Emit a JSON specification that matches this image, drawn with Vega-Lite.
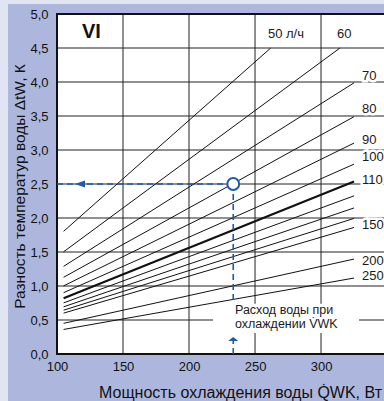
{
  "$schema": "https://vega.github.io/schema/vega-lite/v6.json",
  "width": 327,
  "height": 340,
  "autosize": {"type": "none"},
  "padding": {"left": 57, "top": 14, "right": 0, "bottom": 47},
  "background": "#adb7dd",
  "config": {
    "view": {"stroke": null, "fill": "#ffffff"},
    "font": "Liberation Sans",
    "text": {"font": "Liberation Sans"}
  },
  "datasets": {
    "lines": [
      {"v": 50, "q": 105, "dt": 1.804}, {"v": 50, "q": 261.9, "dt": 4.5},
      {"v": 60, "q": 105, "dt": 1.503}, {"v": 60, "q": 314.3, "dt": 4.5},
      {"v": 70, "q": 105, "dt": 1.289}, {"v": 70, "q": 325, "dt": 3.988},
      {"v": 80, "q": 105, "dt": 1.128}, {"v": 80, "q": 325, "dt": 3.49},
      {"v": 90, "q": 105, "dt": 1.002}, {"v": 90, "q": 325, "dt": 3.102},
      {"v": 100, "q": 105, "dt": 0.902}, {"v": 100, "q": 325, "dt": 2.792},
      {"v": 110, "q": 105, "dt": 0.82}, {"v": 110, "q": 325, "dt": 2.538},
      {"v": 120, "q": 105, "dt": 0.752}, {"v": 120, "q": 325, "dt": 2.326},
      {"v": 130, "q": 105, "dt": 0.694}, {"v": 130, "q": 325, "dt": 2.148},
      {"v": 140, "q": 105, "dt": 0.644}, {"v": 140, "q": 325, "dt": 1.994},
      {"v": 150, "q": 105, "dt": 0.601}, {"v": 150, "q": 325, "dt": 1.861},
      {"v": 200, "q": 105, "dt": 0.451}, {"v": 200, "q": 325, "dt": 1.396},
      {"v": 250, "q": 105, "dt": 0.361}, {"v": 250, "q": 325, "dt": 1.117}
    ],
    "labels": [
      {"t": "50 л/ч", "q": 259.8, "dt": 4.7},
      {"t": "60", "q": 312.1, "dt": 4.7},
      {"t": "70", "q": 331.1, "dt": 4.081},
      {"t": "80", "q": 331.1, "dt": 3.596},
      {"t": "90", "q": 331.1, "dt": 3.154},
      {"t": "100", "q": 331.1, "dt": 2.89},
      {"t": "110", "q": 331.1, "dt": 2.559},
      {"t": "150", "q": 331.1, "dt": 1.897},
      {"t": "200", "q": 331.1, "dt": 1.368},
      {"t": "250", "q": 331.1, "dt": 1.154}
    ],
    "strips": [
      {"q": 40, "q2": 62.9, "dt": -1, "dt2": 6},
      {"q": 40, "q2": 400, "dt": 5.147, "dt2": 6}
    ],
    "grid": [
      {"q": 150, "q2": 150, "dt": 0, "dt2": 5},
      {"q": 200, "q2": 200, "dt": 0, "dt2": 5},
      {"q": 250, "q2": 250, "dt": 0, "dt2": 5},
      {"q": 300, "q2": 300, "dt": 0, "dt2": 5},
      {"q": 100, "q2": 360, "dt": 0.5, "dt2": 0.5},
      {"q": 100, "q2": 360, "dt": 1.0, "dt2": 1.0},
      {"q": 100, "q2": 360, "dt": 1.5, "dt2": 1.5},
      {"q": 100, "q2": 360, "dt": 2.0, "dt2": 2.0},
      {"q": 100, "q2": 360, "dt": 2.5, "dt2": 2.5},
      {"q": 100, "q2": 360, "dt": 3.0, "dt2": 3.0},
      {"q": 100, "q2": 360, "dt": 3.5, "dt2": 3.5},
      {"q": 100, "q2": 360, "dt": 4.0, "dt2": 4.0},
      {"q": 100, "q2": 360, "dt": 4.5, "dt2": 4.5}
    ],
    "frame": [
      {"q": 100, "q2": 100, "dt": 0, "dt2": 5},
      {"q": 99.3, "q2": 360, "dt": 0, "dt2": 0},
      {"q": 99.3, "q2": 360, "dt": 5, "dt2": 5}
    ],
    "box": [{"q": 218.2, "q2": 328.8, "dt": 0.31, "dt2": 0.74}],
    "note": [
      {"t": "Расход воды при", "q": 234.8, "dt": 0.645},
      {"t": "охлаждении V̇WK", "q": 234.8, "dt": 0.44}
    ],
    "dash": [
      {"q": 100, "dt": 2.5, "q2": 233.5, "dt2": 2.5},
      {"q": 233.5, "dt": 2.5, "q2": 233.5, "dt2": 0.78},
      {"q": 233.5, "dt": 0, "q2": 233.5, "dt2": 0.2}
    ]
  },
  "encoding": {
    "x": {"field": "q", "type": "quantitative",
      "scale": {"domain": [100, 347.7], "nice": false, "zero": false},
      "axis": {
        "values": [100, 150, 200, 250, 300, 350],
        "labelFlush": false, "domain": false, "ticks": false, "grid": false,
        "labelPadding": 6, "labelFontSize": 13, "labelColor": "#111111",
        "labelOverlap": false,
        "title": "Мощность охлаждения воды Q̇WK, Вт",
        "titleFontSize": 16, "titleFontWeight": "normal", "titleColor": "#111111",
        "titleX": 183, "titleY": 43, "titleBaseline": "alphabetic", "titleAlign": "center"
      }
    },
    "y": {"field": "dt", "type": "quantitative",
      "scale": {"domain": [0, 5], "nice": false, "zero": false},
      "axis": {
        "values": [0, 0.5, 1, 1.5, 2, 2.5, 3, 3.5, 4, 4.5, 5],
        "labelExpr": "replace(format(datum.value, '.1f'), '.', ',')",
        "domain": false, "ticks": false, "grid": false,
        "labelPadding": 9, "labelFontSize": 13, "labelColor": "#111111",
        "labelOverlap": false, "labelFlush": false,
        "title": "Разность температур воды ΔtW, К",
        "titleFontSize": 15.5, "titleFontWeight": "normal", "titleColor": "#111111",
        "titleX": -33, "titleY": 172, "titleBaseline": "alphabetic"
      }
    }
  },
  "layer": [
    {
      "data": {"name": "strips"},
      "mark": {"type": "rect", "fill": "#e1e4f2"},
      "encoding": {"x2": {"field": "q2"}, "y2": {"field": "dt2"}}
    },
    {
      "data": {"name": "grid"},
      "mark": {"type": "rule", "stroke": "#222222", "strokeWidth": 1},
      "encoding": {"x2": {"field": "q2"}, "y2": {"field": "dt2"}}
    },
    {
      "data": {"name": "frame"},
      "mark": {"type": "rule", "stroke": "#111111", "strokeWidth": 2},
      "encoding": {"x2": {"field": "q2"}, "y2": {"field": "dt2"}}
    },
    {
      "data": {"name": "box"},
      "mark": {"type": "rect", "fill": "#ffffff"},
      "encoding": {"x2": {"field": "q2"}, "y2": {"field": "dt2"}}
    },
    {
      "data": {"name": "lines"},
      "mark": {"type": "line", "stroke": "#111111"},
      "encoding": {
        "detail": {"field": "v", "type": "nominal"},
        "strokeWidth": {"condition": {"test": "datum.v == 110", "value": 2.2}, "value": 1}
      }
    },
    {
      "data": {"name": "labels"},
      "mark": {"type": "text", "align": "left", "baseline": "middle", "fontSize": 13, "stroke": "#ffffff", "strokeWidth": 5, "fill": "#ffffff"},
      "encoding": {"text": {"field": "t"}}
    },
    {
      "data": {"name": "labels"},
      "mark": {"type": "text", "align": "left", "baseline": "middle", "fontSize": 13, "fill": "#1a1a1a"},
      "encoding": {"text": {"field": "t"}}
    },
    {
      "data": {"values": [{"t": "VI", "q": 118.9, "dt": 4.735}]},
      "mark": {"type": "text", "align": "left", "baseline": "middle", "fontSize": 20, "fontWeight": "bold", "fill": "#111111"},
      "encoding": {"text": {"field": "t"}}
    },
    {
      "data": {"name": "note"},
      "mark": {"type": "text", "align": "left", "baseline": "middle", "fontSize": 12.5, "fill": "#1a1a1a"},
      "encoding": {"text": {"field": "t"}}
    },
    {
      "data": {"name": "dash"},
      "mark": {"type": "rule", "stroke": "#1d5aa8", "strokeWidth": 1.6, "strokeDash": [6, 4]},
      "encoding": {"x2": {"field": "q2"}, "y2": {"field": "dt2"}}
    },
    {
      "data": {"values": [{"q": 117.4, "dt": 2.5}]},
      "mark": {"type": "point", "shape": "M-1,0L1,-0.7L1,0.7Z", "filled": true, "fill": "#1d5aa8", "size": 100, "opacity": 1}
    },
    {
      "data": {"values": [{"q": 233.5, "dt": 0.228}]},
      "mark": {"type": "point", "shape": "M-1,0.5L0,-0.3L1,0.5Z", "filled": true, "fill": "#1d5aa8", "size": 100, "opacity": 1}
    },
    {
      "data": {"values": [{"q": 233.5, "dt": 2.5}]},
      "mark": {"type": "point", "shape": "circle", "filled": true, "fill": "#ffffff", "stroke": "#1d5aa8", "strokeWidth": 2, "size": 140, "opacity": 1}
    }
  ]
}
